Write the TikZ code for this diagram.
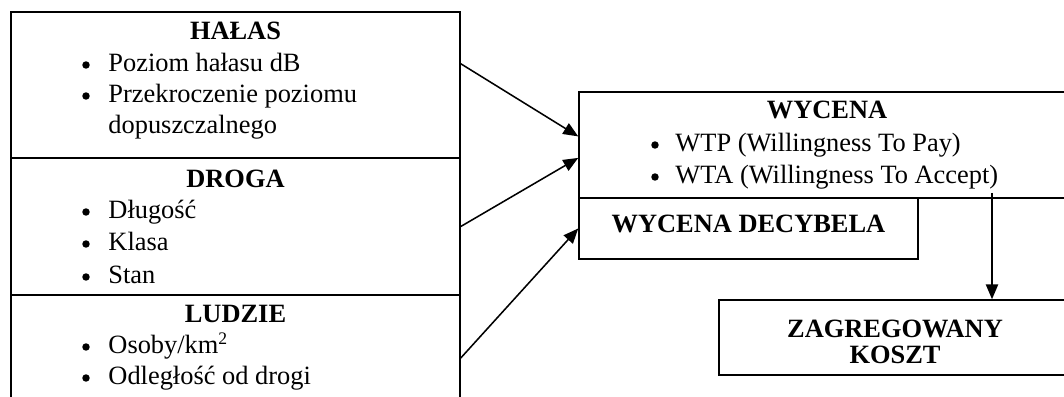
\documentclass[tikz,border=0pt]{standalone}
\usepackage{fontspec}
\setmainfont{Liberation Serif}
\usetikzlibrary{arrows.meta,calc,fit,positioning}

\tikzset{
  txt/.style={font=\fontsize{12}{14}\selectfont, inner sep=0pt},
  box/.style={draw, line width=0.7pt, inner sep=0pt},
  head/.style={txt, font=\fontsize{12}{14}\selectfont\bfseries, anchor=base},
  item/.style={txt, anchor=base west},
  dot/.style={circle, fill, inner sep=0pt, minimum size=3.4pt},
  arr/.style={line width=0.7pt, -{Triangle[length=6.8pt,width=5.6pt]}}
}

\begin{document}
\begin{tikzpicture}[x=0.4545pt,y=-0.4545pt]
\clip (0,0) rectangle (1064,397);

% left column
\node[box, fit={(11,12) (460,158)}] (halas) {};
\node[box, fit={(11,158) (460,295)}] (droga) {};
\node[box, fit={(11,295) (460,421)}] (ludzie) {};

\node[head] (halas-t) at (235.5,40) {HAŁAS};
\node[head] (droga-t) at (235.5,188) {DROGA};
\node[head] (ludzie-t) at (235.5,322) {LUDZIE};

\foreach \y/\t/\n in {72/{Poziom hałasu dB}/p1, 103/{Przekroczenie poziomu}/p2,
    219/{Długość}/d1, 251/{Klasa}/d2, 284/{Stan}/d3,
    354/{Osoby/km\textsuperscript{2}}/l1, 385/{Odległość od drogi}/l2} {
  \node[dot] (\n-b) at (86,\y-7) {};
  \node[item] (\n) at (108,\y) {\t};
}
\node[item] (p2b) at (108,134) {dopuszczalnego};

% right side
\node[box, fit={(579,92) (1075,198)}] (wycena) {};
\node[box, fit={(579,198) (918,259)}] (decybela) {};
\node[box, fit={(719,300) (1072,375)}] (koszt) {};

\node[head] (wycena-t) at (827,119) {WYCENA};
\foreach \y/\t/\n in {152/{WTP (Willingness To Pay)}/w1, 184/{WTA (Willingness To Accept)}/w2} {
  \node[dot] (\n-b) at (655,\y-7) {};
  \node[item] (\n) at (675,\y) {\t};
}
\node[head] (decybela-t) at (748.5,233) {WYCENA DECYBELA};
\node[head] (koszt-t1) at (895,337) {ZAGREGOWANY};
\node[head] (koszt-t2) at (895,363) {KOSZT};

% arrows
\coordinate (pin) at (992,193);
\draw[arr] ($(halas.north east)!0.356!(halas.south east)$) -- ($(wycena.north west)!0.42!(wycena.south west)$);
\draw[arr] (droga.east) -- ($(wycena.north west)!0.62!(wycena.south west)$);
\draw[arr] (ludzie.east) -- (decybela.west);
\draw[arr] (pin) -- (pin |- koszt.north);

\end{tikzpicture}
\end{document}
